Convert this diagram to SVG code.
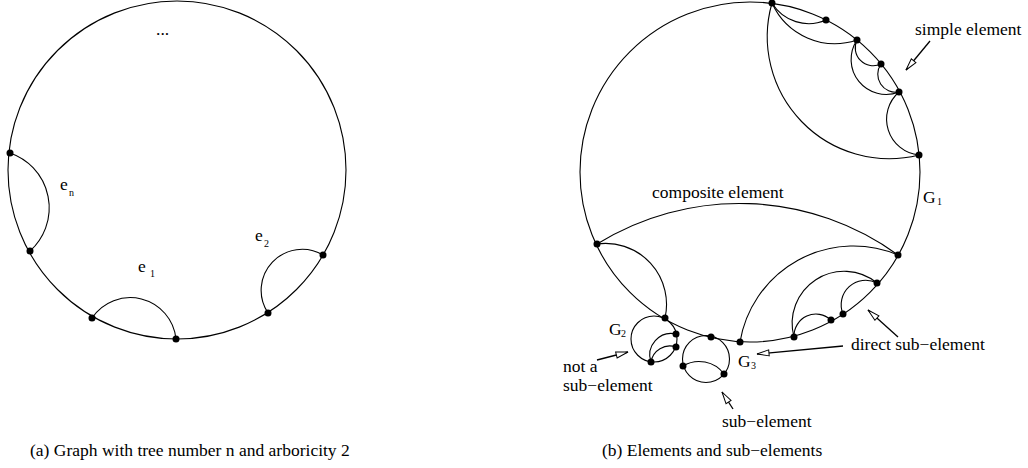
<svg xmlns="http://www.w3.org/2000/svg" width="1028" height="468" viewBox="0 0 1028 468">
<style>
.e{fill:none;stroke:#000;stroke-width:1.1}
.v{fill:#000}
.t{font-family:"Liberation Serif","Times New Roman",serif;font-size:17.5px;fill:#000}
.s{font-family:"Liberation Serif","Times New Roman",serif;font-size:10px;fill:#000}
.a{fill:none;stroke:#000;stroke-width:1.3}
</style>
<defs>
<marker id="ah" markerUnits="userSpaceOnUse" markerWidth="14" markerHeight="10" viewBox="-1 -5 14 10" refX="12" refY="0" orient="auto">
<path d="M0,-3 L12,0 L0,3 Z" fill="#fff" stroke="#000" stroke-width="1"/>
</marker>
</defs>
<rect width="1028" height="468" fill="#fff"/>

<!-- (a) -->
<g id="graphA">
<circle class="e" cx="177" cy="170" r="169"/>
</g>
<g id="connectorsA">
<path class="e" d="M10,153 A58,58 0 0 1 30,251"/>
<path class="e" d="M92,318 A46,46 0 0 1 176,339"/>
<path class="e" d="M268,313 A41,41 0 0 1 323,255"/>
</g>
<g id="a_v1"><circle class="v" cx="10" cy="153" r="3.5"/></g>
<g id="a_v2"><circle class="v" cx="30" cy="251" r="3.5"/></g>
<g id="a_v3"><circle class="v" cx="92" cy="318" r="3.5"/></g>
<g id="a_v4"><circle class="v" cx="176" cy="339" r="3.5"/></g>
<g id="a_v5"><circle class="v" cx="268" cy="313" r="3.5"/></g>
<g id="a_v6"><circle class="v" cx="323" cy="255" r="3.5"/></g>
<g id="labelsA">
<text class="t" x="156" y="35">...</text>
<text class="t" x="60" y="190">e</text><text class="s" x="69" y="196">n</text>
<text class="t" x="138" y="272">e</text><text class="s" x="150" y="277">1</text>
<text class="t" x="255" y="241">e</text><text class="s" x="264" y="247">2</text>
<text class="t" x="30" y="456">(a) Graph with tree number n and arboricity 2</text>
</g>

<!-- (b) -->
<g id="G1"><circle class="e" cx="750" cy="172" r="170"/></g>
<g id="G2"><circle class="e" cx="654" cy="339" r="23"/></g>
<g id="G3"><circle class="e" cx="706" cy="359" r="23.5"/></g>
<g id="connectorsB">
<path class="e" d="M772,3 A43,43 0 0 0 826,20"/>
<path class="e" d="M772,3 A69,69 0 0 0 857,40"/>
<path class="e" d="M772,3 A122,122 0 0 0 919,155"/>
<path class="e" d="M857,40 A18,18 0 0 0 881,64"/>
<path class="e" d="M857,40 A35,35 0 0 0 899,92"/>
<path class="e" d="M881,64 A18,18 0 0 0 899,92"/>
<path class="e" d="M899,92 A36,36 0 0 0 919,155"/>
<path class="e" d="M597,244 A270,270 0 0 1 898,255"/>
<path class="e" d="M597,244 A61,61 0 0 1 665,318"/>
<path class="e" d="M740,342 A115,115 0 0 1 898,255"/>
<path class="e" d="M794,337 A52,52 0 0 1 877,283"/>
<path class="e" d="M794,337 A22,22 0 0 1 831,320"/>
<path class="e" d="M843,314 A24.5,24.5 0 0 1 877,283"/>
<path class="e" d="M651,362 A21.5,21.5 0 0 1 676,334"/>
<path class="e" d="M651,362 A19,19 0 0 1 676,347"/>
<path class="e" d="M683,366 A31,31 0 0 1 724,374"/>
</g>
<g id="b_v1"><circle class="v" cx="772" cy="3" r="3.5"/></g>
<g id="b_v2"><circle class="v" cx="826" cy="20" r="3.5"/></g>
<g id="b_v3"><circle class="v" cx="857" cy="40" r="3.5"/></g>
<g id="b_v4"><circle class="v" cx="881" cy="64" r="3.5"/></g>
<g id="b_v5"><circle class="v" cx="899" cy="92" r="3.5"/></g>
<g id="b_v6"><circle class="v" cx="919" cy="155" r="3.5"/></g>
<g id="b_v7"><circle class="v" cx="597" cy="244" r="3.5"/></g>
<g id="b_v8"><circle class="v" cx="898" cy="255" r="3.5"/></g>
<g id="b_v9"><circle class="v" cx="877" cy="283" r="3.5"/></g>
<g id="b_v10"><circle class="v" cx="843" cy="314" r="3.5"/></g>
<g id="b_v11"><circle class="v" cx="831" cy="320" r="3.5"/></g>
<g id="b_v12"><circle class="v" cx="794" cy="337" r="3.5"/></g>
<g id="b_v13"><circle class="v" cx="740" cy="342" r="3.5"/></g>
<g id="b_v14"><circle class="v" cx="711" cy="337" r="3.5"/></g>
<g id="b_v15"><circle class="v" cx="665" cy="318" r="3.5"/></g>
<g id="b_v16"><circle class="v" cx="676" cy="334" r="3.5"/></g>
<g id="b_v17"><circle class="v" cx="676" cy="347" r="3.5"/></g>
<g id="b_v18"><circle class="v" cx="651" cy="362" r="3.5"/></g>
<g id="b_v19"><circle class="v" cx="683" cy="366" r="3.5"/></g>
<g id="b_v20"><circle class="v" cx="724" cy="374" r="3.5"/></g>
<g id="arrows">
<line class="a" x1="930" y1="41" x2="906" y2="70" marker-end="url(#ah)"/>
<line class="a" x1="898" y1="337" x2="868" y2="310" marker-end="url(#ah)"/>
<line class="a" x1="843" y1="346" x2="757" y2="354" marker-end="url(#ah)"/>
<line class="a" x1="597" y1="360" x2="628" y2="352" marker-end="url(#ah)"/>
<line class="a" x1="733" y1="409" x2="722" y2="392" marker-end="url(#ah)"/>
</g>
<g id="labelsB">
<text class="t" x="915" y="35">simple element</text>
<text class="t" x="652" y="198">composite element</text>
<text class="t" x="923" y="203">G</text><text class="s" x="937" y="205">1</text>
<text class="t" x="609" y="335">G</text><text class="s" x="621" y="337">2</text>
<text class="t" x="738" y="367">G</text><text class="s" x="751" y="369">3</text>
<text class="t" x="851" y="350">direct sub−element</text>
<text class="t" x="563" y="372">not a</text>
<text class="t" x="563" y="391">sub−element</text>
<text class="t" x="722" y="427">sub−element</text>
<text class="t" x="602" y="456">(b) Elements and sub−elements</text>
</g>
</svg>
